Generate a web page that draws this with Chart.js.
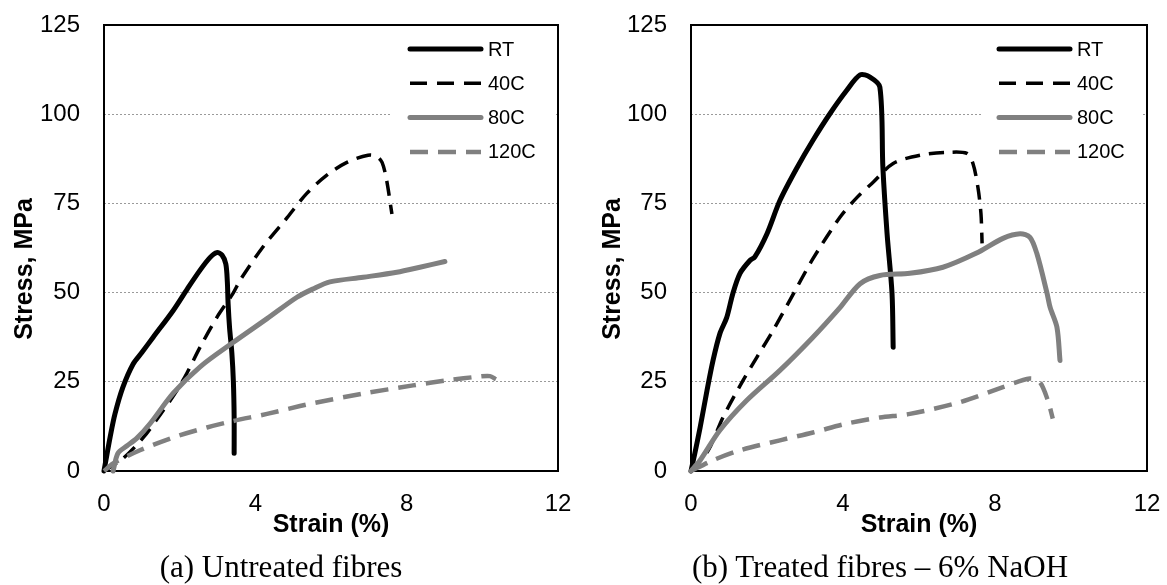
<!DOCTYPE html>
<html><head><meta charset="utf-8">
<script src="https://cdn.jsdelivr.net/npm/chart.js@4/dist/chart.umd.min.js"></script>
<style>
html,body{margin:0;padding:0;background:#fff;width:1167px;height:585px;overflow:hidden;}
canvas{position:absolute;top:0;}
#ca{left:0;} #cb{left:584px;}
.cap{position:absolute;top:551px;width:440px;font-family:'Liberation Serif','Times New Roman',serif;font-size:31px;line-height:31px;white-space:nowrap;text-align:center;color:#000;}
</style></head>
<body>
<canvas id="ca" width="584" height="585"></canvas>
<canvas id="cb" width="583" height="585"></canvas>
<div class="cap" style="left:61px;">(a) Untreated fibres</div>
<div class="cap" style="left:660px;">(b) Treated fibres – 6% NaOH</div>
<script>
// ---- data (strain %, stress MPa) ----
const seriesLabels = ['RT', '40C', '80C', '120C'];
const xTicks = [0, 4, 8, 12];
const yTicks = [0, 25, 50, 75, 100, 125];
const xTitle = 'Strain (%)';
const yTitle = 'Stress, MPa';

// (a) untreated
const strainRT_a  = [0,0.05,0.16,0.29,0.5,0.77,1.0,1.3,1.83,2.2,2.54,2.8,2.98,3.12,3.22,3.26,3.28,3.32,3.38,3.42,3.44,3.44];
const stressRT_a  = [0,3,9.4,16,23.5,30,33.2,37.5,45,51,56.3,59.8,61.2,60.5,58,53,47,40,33,25,15,5];
const strain40_a  = [0,0.5,1.04,1.5,1.93,2.19,2.54,2.98,3.41,3.6,4.2,4.84,5.36,5.89,6.42,6.98,7.2,7.35,7.47,7.61];
const stress40_a  = [0,3.5,9.4,16,22.6,27.4,34.7,43,49.8,53.5,62.8,71,77.8,82.9,86.5,88.5,88.2,86.5,81.5,72];
const strain80_a  = [0.24,0.37,0.6,0.87,1.22,1.83,2.54,3.41,4.31,5.1,5.52,5.97,6.85,7.74,8.35,9.01];
const stress80_a  = [0,5,7,9.2,13.3,21.8,29.2,36,42.7,48.7,51,53,54.3,55.7,57.1,58.7];
const strain120_a = [0,0.24,0.95,1.83,2.72,3.41,4.31,5.18,5.52,6.85,8.17,9.07,9.94,10.2,10.36];
const stress120_a = [0,2.1,5.8,9.4,12.2,14,16,18.2,19,21.7,24,25.4,26.5,26.6,25.7];

// (b) treated 6% NaOH
const strainRT_b  = [0,0.1,0.24,0.42,0.58,0.76,0.94,1.1,1.29,1.55,1.68,2.0,2.34,2.79,3.21,3.66,4.1,4.45,4.71,4.97,5.05,5.16,5.29,5.32];
const stressRT_b  = [0,4.9,12.2,22.5,31,38.5,43,49.7,55.4,59,60,66.5,75.8,85,92.7,100.2,106.7,111,110.4,107.6,85,66.5,49.8,34.7];
const strain40_b  = [0,0.45,0.84,1.37,1.74,2.16,2.6,3.21,3.92,4.37,4.8,5.32,6.03,6.74,7.26,7.42,7.55,7.63,7.66];
const stress40_b  = [0,5.7,15,25.4,32,39.4,47.8,59.5,71.1,76.7,81,86.2,88.5,89.3,89,86.2,79.5,72.2,63.8];
const strain80_b  = [0,0.24,0.76,1.47,2.34,3.21,3.92,4.45,4.97,5.76,6.63,7.5,8.21,8.66,8.92,9.1,9.37,9.45,9.63,9.71];
const stress80_b  = [0,3,11.4,19.8,28.2,37.5,45.8,52.5,54.8,55.4,57.1,61,65.2,66.5,65.5,61,49.8,45.9,40.3,31];
const strain120_b = [0,0.58,1.29,2.34,3.21,4.1,4.97,5.76,7.08,8.21,8.92,9.18,9.39,9.52];
const stress120_b = [0,3,5.8,8.6,10.8,13.3,15,16,19.3,23.5,25.9,24.9,19.8,14.7];

// ---- styling ----
const SANS = "'Liberation Sans', Arial, sans-serif";
Chart.defaults.font.family = SANS;
Chart.defaults.color = '#000';

const styles = [
  {borderColor:'#000000', borderWidth:5,   borderDash:[],      order:4},
  {borderColor:'#000000', borderWidth:3.5, borderDash:[15,9],  order:3},
  {borderColor:'#808080', borderWidth:5,   borderDash:[],      order:2},
  {borderColor:'#808080', borderWidth:4.5, borderDash:[18,10], order:1}
];

function pts(xs, ys){ return xs.map((x,i)=>({x:x, y:ys[i]})); }

function makeDatasets(pairs){
  return pairs.map((p,i)=>Object.assign({
    label: seriesLabels[i],
    data: pts(p[0], p[1]),
    showLine: true, pointRadius: 0, pointHoverRadius: 0,
    tension: 0.3, borderCapStyle: i===1||i===3 ? 'butt' : 'round',
    borderJoinStyle: 'round', clip: false, fill: false
  }, styles[i]));
}

function panelPlugin(yTitleX){
  return {
    id: 'panelDecor',
    beforeDatasetsDraw(chart){
      const {ctx, chartArea:a} = chart;
      ctx.save();
      ctx.fillStyle = '#fff';
      ctx.fillRect(a.right-166, a.top+4, 162, 145);
      ctx.strokeStyle = '#000'; ctx.lineWidth = 2;
      ctx.strokeRect(a.left, a.top, a.right-a.left, a.bottom-a.top);
      ctx.restore();
    },
    afterDatasetsDraw(chart){
      const {ctx, chartArea:a} = chart;
      ctx.save();
      const legendDash = [[],[17,10],[],[18,10]];
      chart.data.datasets.forEach((ds,i)=>{
        const y = a.top + 24 + i*34.3;
        ctx.beginPath();
        ctx.strokeStyle = ds.borderColor;
        ctx.lineWidth = ds.borderWidth;
        ctx.lineCap = (i===0||i===2) ? 'round' : 'butt';
        ctx.setLineDash(legendDash[i]);
        ctx.moveTo(a.right-148, y); ctx.lineTo(a.right-77, y);
        ctx.stroke();
        ctx.setLineDash([]);
        ctx.fillStyle = '#000';
        ctx.font = '20px ' + SANS;
        ctx.textAlign = 'left'; ctx.textBaseline = 'middle';
        ctx.fillText(ds.label, a.right-70, y+1);
      });
      ctx.restore();
    },
    afterDraw(chart){
      const {ctx, chartArea:a} = chart;
      ctx.save();
      ctx.fillStyle = '#000';
      ctx.font = 'bold 25px ' + SANS;
      ctx.textAlign = 'center'; ctx.textBaseline = 'alphabetic';
      ctx.fillText(xTitle, (a.left+a.right)/2, 532);
      ctx.translate(yTitleX, 269);
      ctx.rotate(-Math.PI/2);
      ctx.fillText(yTitle, 0, 0);
      ctx.restore();
    }
  };
}

function zeroPad(s){ s.paddingTop = 0; s.paddingBottom = 0; s.paddingLeft = 0; s.paddingRight = 0; }

function makeChart(id, pairs, yAxisWidth, rightPad, yTitleX){
  return new Chart(document.getElementById(id), {
    type: 'scatter',
    data: { datasets: makeDatasets(pairs) },
    options: {
      responsive: false, animation: false, events: [],
      layout: { padding: {left:0, right:rightPad, top:25, bottom:0} },
      plugins: { legend:{display:false}, tooltip:{enabled:false} },
      scales: {
        x: {
          type: 'linear', min: xTicks[0], max: xTicks[xTicks.length-1],
          afterBuildTicks(s){ s.ticks = xTicks.map(v=>({value:v})); },
          afterFit(s){ s.height = 114; zeroPad(s); },
          grid: { display:false, drawTicks:false },
          border: { display:false },
          ticks: { font:{size:24}, color:'#000', padding:19, maxRotation:0 }
        },
        y: {
          type: 'linear', min: yTicks[0], max: yTicks[yTicks.length-1],
          afterBuildTicks(s){ s.ticks = yTicks.map(v=>({value:v})); },
          afterFit(s){ s.width = yAxisWidth; zeroPad(s); },
          grid: {
            drawTicks:false, lineWidth:1,
            color: c => (c.tick && c.tick.value > 0 && c.tick.value < 125) ? '#9a9a9a' : 'rgba(0,0,0,0)'
          },
          border: { display:false, dash:[2,2] },
          ticks: { font:{size:24}, color:'#000', padding:24 }
        }
      }
    },
    plugins: [panelPlugin(yTitleX)]
  });
}

makeChart('ca', [[strainRT_a,stressRT_a],[strain40_a,stress40_a],[strain80_a,stress80_a],[strain120_a,stress120_a]], 104, 26, 32);
makeChart('cb', [[strainRT_b,stressRT_b],[strain40_b,stress40_b],[strain80_b,stress80_b],[strain120_b,stress120_b]], 107, 20, 36);
</script>
</body></html>
